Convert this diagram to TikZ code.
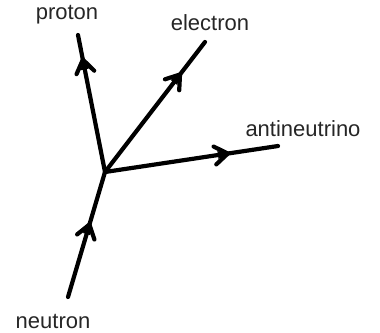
\documentclass[tikz,border=0pt]{standalone}
\usepackage{fontspec}
\setmainfont{Liberation Sans}
\usetikzlibrary{decorations.markings}
\begin{document}
\begin{tikzpicture}[x=1pt,y=-1pt,
  particle/.style={line width=4.2pt,line cap=round,line join=round},
  arrowat/.style={postaction={decorate},decoration={markings,mark=at position #1 with {\draw[line width=4.2pt,line cap=round,line join=miter] (-13pt,9pt) -- (0pt,0pt) -- (-13pt,-9pt); \fill (2pt,0pt) -- (-10pt,4pt) -- (-10pt,-4pt) -- cycle;}}},
  lbl/.style={font=\fontsize{22}{25}\selectfont,text=black!85,inner sep=0pt}]
\useasboundingbox (0,0) rectangle (380,332);
\coordinate (v) at (105,172);
\coordinate (p) at (78,35);
\coordinate (e) at (205,42);
\coordinate (a) at (278,146);
\coordinate (n) at (68,297);
\draw[particle,arrowat=0.82] (v) -- (p);
\draw[particle,arrowat=0.75] (v) -- (e);
\draw[particle,arrowat=0.71] (v) -- (a);
\draw[particle,arrowat=0.58] (n) -- (v);
\node[lbl] (lp) at (67,15) {proton};
\node[lbl] (le) at (210,23) {electron};
\node[lbl] (la) at (303,129) {antineutrino};
\node[lbl] (ln) at (53,321) {neutron};
\end{tikzpicture}
\end{document}
